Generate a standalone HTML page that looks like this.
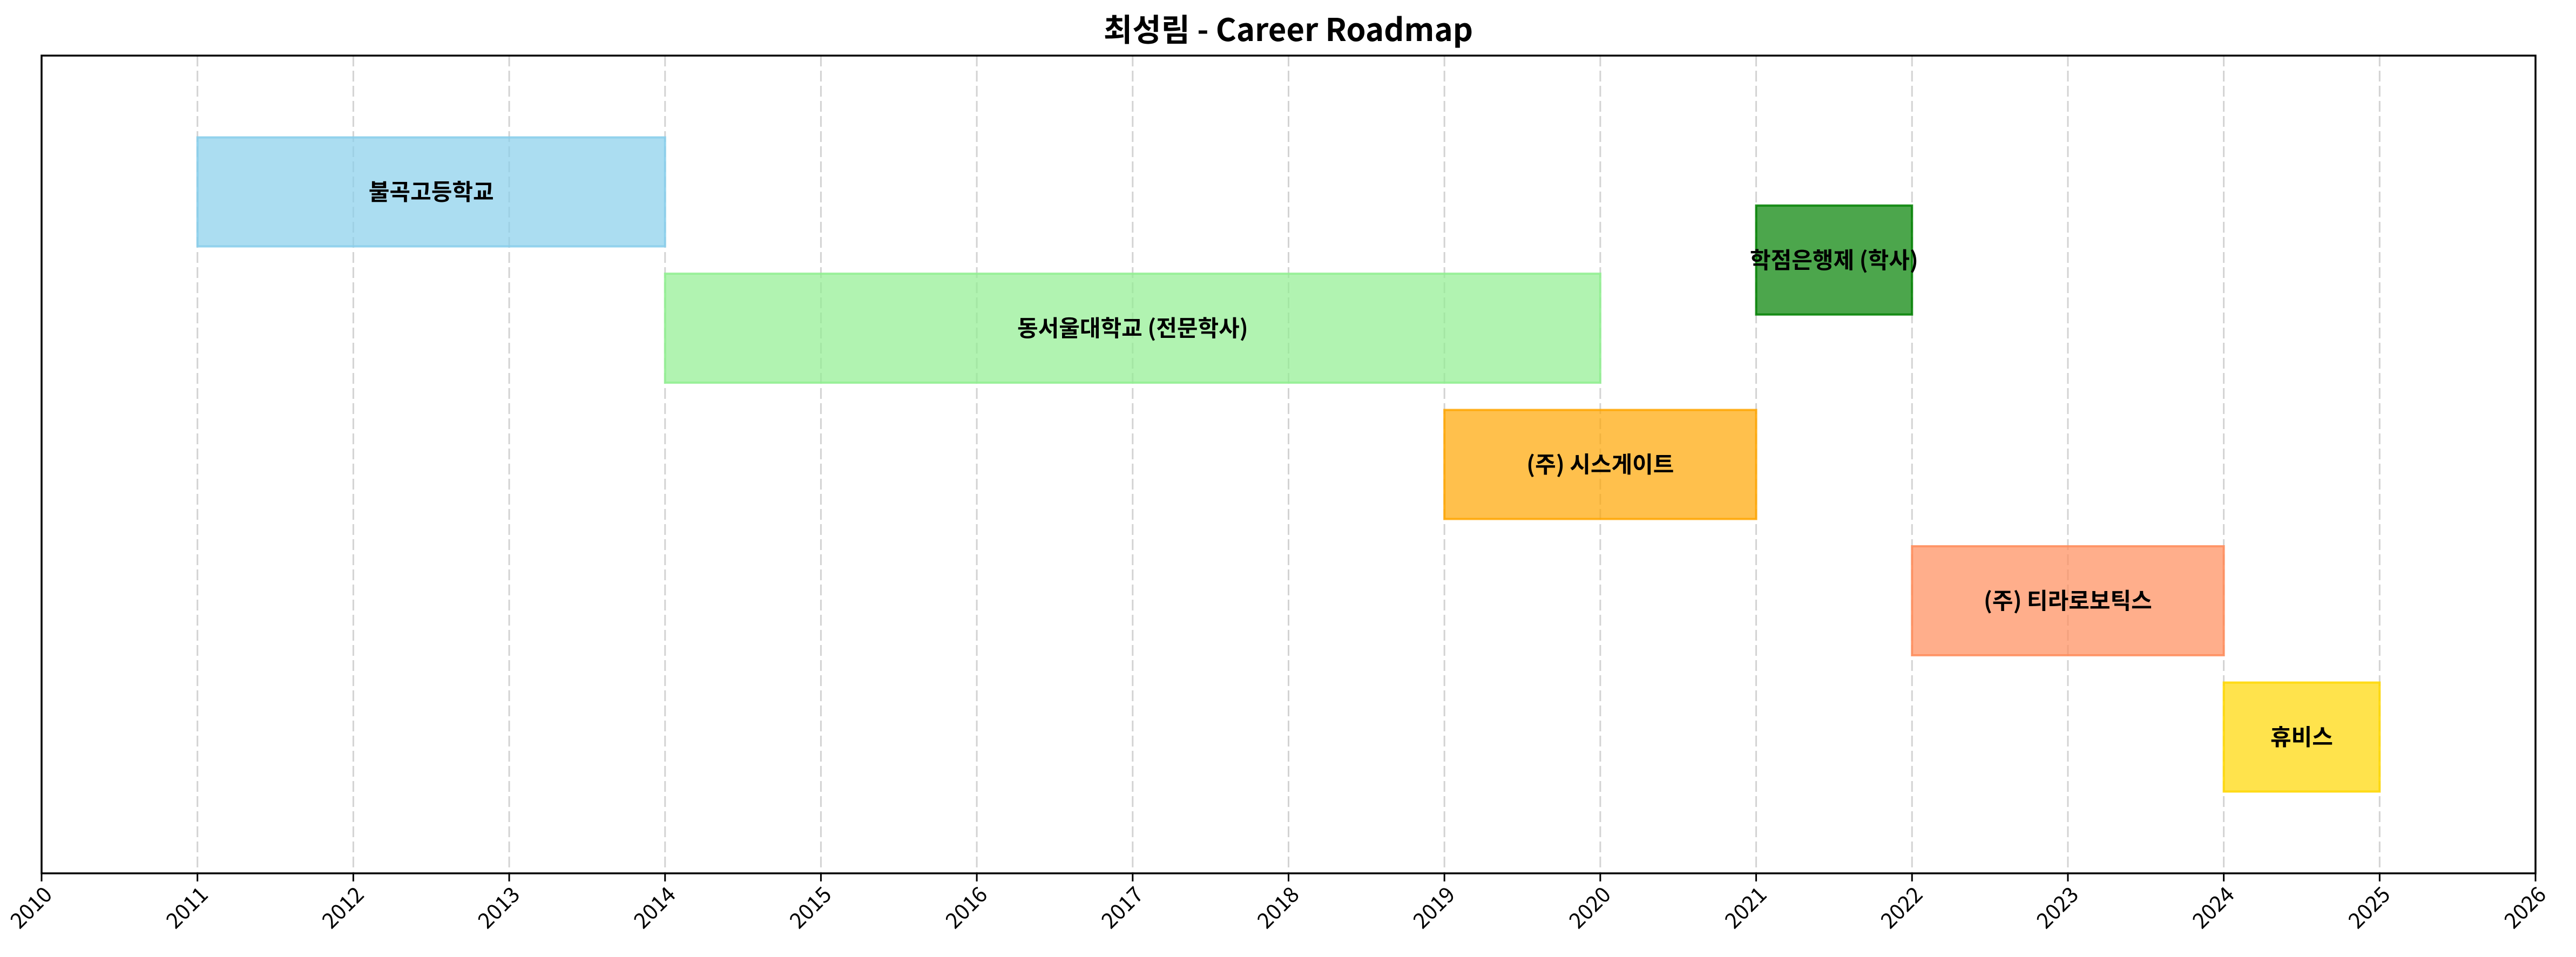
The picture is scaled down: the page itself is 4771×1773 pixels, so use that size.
<!DOCTYPE html>
<html><head><meta charset="utf-8">
<style>
html,body{margin:0;padding:0;background:#fff;}
svg{display:block;}
text{font-family:"Noto Sans CJK KR","Liberation Sans",sans-serif;}
</style></head>
<body>
<svg id="chart" width="4771" height="1773" viewBox="0 0 4771 1773" xmlns="http://www.w3.org/2000/svg">
<rect width="4771" height="1773" fill="#fff"/>
<text x="2386" y="76" text-anchor="middle" font-size="58" font-weight="bold" fill="#000">최성림 - Career Roadmap</text>
<g id="grid"></g>
<g id="bars"></g>
<g id="axes"></g>
</svg>
<script>
const labels = ["불곡고등학교","학점은행제 (학사)","동서울대학교 (전문학사)","(주) 시스게이트","(주) 티라로보틱스","휴비스"];
const starts = [2011,2021,2014,2019,2022,2024];
const ends = [2014,2022,2020,2021,2024,2025];
const rows = [0,0.5,1,2,3,4];
const fills = ["#87ceeb","#008000","#90ee90","#ffa500","#ff8c5a","#ffd700"];
const tickYears = [2010,2011,2012,2013,2014,2015,2016,2017,2018,2019,2020,2021,2022,2023,2024,2025,2026];

const NS="http://www.w3.org/2000/svg";
const L=77,R=4696,T=103,B=1618;
const xMin=2010,xMax=2026,yMin=-1,yMax=5;
const xs=v=>L+(v-xMin)/(xMax-xMin)*(R-L);
const ys=v=>T+(v-yMin)/(yMax-yMin)*(B-T);
function mk(tag,attrs,parent){const e=document.createElementNS(NS,tag);for(const k in attrs)e.setAttribute(k,attrs[k]);parent.appendChild(e);return e;}
const grid=document.getElementById('grid'),bars=document.getElementById('bars'),axes=document.getElementById('axes');

tickYears.forEach(y=>{
  const g=mk('line',{x1:xs(y),x2:xs(y),y1:T,y2:B,stroke:'#d3d3d3','stroke-width':3,'stroke-dasharray':'20,8'},grid);
  
  
});

labels.forEach((lab,i)=>{
  const h=0.8;
  const r=mk('rect',{x:xs(starts[i]),y:ys(rows[i]-h/2),width:xs(ends[i])-xs(starts[i]),height:ys(rows[i]+h/2)-ys(rows[i]-h/2),fill:fills[i],'fill-opacity':0.7,stroke:fills[i],'stroke-opacity':0.85,'stroke-width':4},bars);
  
  
  const t=mk('text',{x:(xs(starts[i])+xs(ends[i]))/2,y:ys(rows[i])+15,'text-anchor':'middle','font-size':42,'font-weight':'bold',fill:'#000'},bars);
  t.textContent=lab;
  
  
});

const frame=mk('rect',{x:L,y:T,width:R-L,height:B-T,fill:'none',stroke:'#000','stroke-width':3.5},axes);


tickYears.forEach(y=>{
  const tk=mk('line',{x1:xs(y),x2:xs(y),y1:B,y2:B+15,stroke:'#000','stroke-width':3},axes);
  
  
  const x=xs(y)+22,yy=B+42;
  const t=mk('text',{x:x,y:yy,'text-anchor':'end','font-size':40,fill:'#000',transform:'rotate(-45 '+x+' '+yy+')'},axes);
  t.textContent=String(y);
  
  
});
</script>
</body></html>
